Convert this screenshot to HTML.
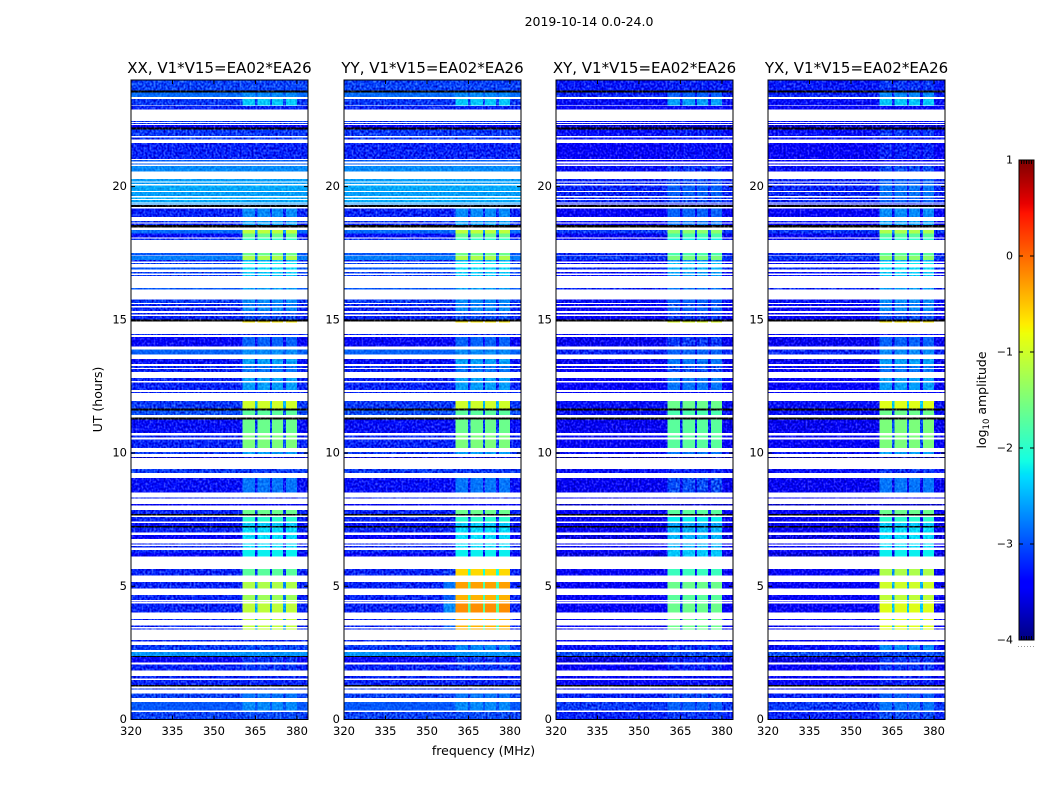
<!DOCTYPE html>
<html lang="en">
<head>
<meta charset="utf-8">
<title>2019-10-14 0.0-24.0</title>
<style>
html,body{margin:0;padding:0;background:#fff;}
svg{display:block;font-family:"DejaVu Sans","Liberation Sans",sans-serif;fill:#000;}
</style>
</head>
<body>
<svg id="chart" xmlns="http://www.w3.org/2000/svg" width="1050" height="800" viewBox="0 0 1050 800">
  <defs>
    <filter id="speckle-a" filterUnits="userSpaceOnUse" x="0" y="0" width="1050" height="800" color-interpolation-filters="sRGB">
      <feTurbulence type="fractalNoise" baseFrequency="0.5 0.42" numOctaves="1" seed="3" result="n"/>
      <feColorMatrix in="n" type="matrix" values="1 0 0 0 0 1 0 0 0 0 1 0 0 0 0 0 0 0 0 1" result="g"/>
      <feComposite in="SourceGraphic" in2="g" operator="arithmetic" k1="0" k2="1" k3="0.95" k4="-0.475" result="m"/>
      <feComposite in="m" in2="SourceAlpha" operator="in"/>
    </filter>
    <filter id="speckle-b" filterUnits="userSpaceOnUse" x="0" y="0" width="1050" height="800" color-interpolation-filters="sRGB">
      <feTurbulence type="fractalNoise" baseFrequency="0.5 0.42" numOctaves="1" seed="11" result="n"/>
      <feColorMatrix in="n" type="matrix" values="1 0 0 0 0 1 0 0 0 0 1 0 0 0 0 0 0 0 0 1" result="g"/>
      <feComposite in="SourceGraphic" in2="g" operator="arithmetic" k1="0" k2="1" k3="0.95" k4="-0.475" result="m"/>
      <feComposite in="m" in2="SourceAlpha" operator="in"/>
    </filter>
    <filter id="speckle-weak" filterUnits="userSpaceOnUse" x="0" y="0" width="1050" height="800" color-interpolation-filters="sRGB">
      <feTurbulence type="fractalNoise" baseFrequency="0.5 0.42" numOctaves="1" seed="7" result="n"/>
      <feColorMatrix in="n" type="matrix" values="1 0 0 0 0 1 0 0 0 0 1 0 0 0 0 0 0 0 0 1" result="g"/>
      <feComposite in="SourceGraphic" in2="g" operator="arithmetic" k1="0" k2="1" k3="0.45" k4="-0.225" result="m"/>
      <feComposite in="m" in2="SourceAlpha" operator="in"/>
    </filter>
  </defs>
  <text x="589" y="26" text-anchor="middle" font-size="12.5">2019-10-14 0.0-24.0</text>
  <text x="483.5" y="755" text-anchor="middle" font-size="12.5">frequency (MHz)</text>
  <text x="0" y="0" transform="translate(102 399.5) rotate(-90)" text-anchor="middle" font-size="12.5">UT (hours)</text>
  <text x="0" y="0" transform="translate(986 400) rotate(-90)" text-anchor="middle" font-size="12.5">log<tspan dy="3" font-size="8.5">10</tspan><tspan dy="-3"> amplitude</tspan></text>
  <g id="panels"></g>
  <g id="colorbar"></g>
</svg>
<script>
/* ---- chart data (hours, MHz, log10 amplitude) ---- */
const panelTitles = ["XX, V1*V15=EA02*EA26","YY, V1*V15=EA02*EA26","XY, V1*V15=EA02*EA26","YX, V1*V15=EA02*EA26"];
const xTickLabels = [320,335,350,365,380];
const yTickLabels = [0,5,10,15,20];
const colorbarTicks = [1,0,-1,-2,-3,-4];

const rowStart = [0.00,0.33,0.80,1.13,1.23,1.29,1.53,1.83,2.13,2.35,2.39,2.61,2.93,3.37,3.48,3.73,4.01,4.41,4.48,4.91,5.40,6.11,6.24,6.46,6.56,6.78,7.01,7.21,7.26,7.44,7.66,7.71,8.04,8.30,8.51,9.26,9.81,9.97,10.18,10.59,10.76,11.26,11.42,11.59,11.68,12.26,12.36,12.70,13.05,13.20,13.34,13.70,13.99,14.43,14.89,14.93,15.02,15.20,15.34,15.51,15.64,16.14,16.64,16.74,16.89,17.09,17.18,17.24,17.42,17.99,18.09,18.24,18.47,18.56,18.65,18.86,19.24,19.33,19.41,19.53,19.64,19.84,20.10,20.20,20.57,20.82,20.94,21.03,21.77,21.89,22.14,22.22,22.35,22.43,22.89,23.05,23.37,23.54,23.60];
const rowEnd = [0.28,0.65,0.98,1.17,1.29,1.48,1.63,2.06,2.35,2.39,2.54,2.80,2.98,3.42,3.52,3.77,4.36,4.43,4.67,5.16,5.65,6.24,6.36,6.51,6.61,6.93,7.21,7.26,7.38,7.60,7.71,7.86,8.09,8.34,9.06,9.40,9.86,10.04,10.51,10.66,11.26,11.34,11.59,11.68,11.95,12.30,12.64,12.82,13.15,13.26,13.53,13.89,14.36,14.46,14.93,15.02,15.14,15.26,15.47,15.59,15.77,16.19,16.68,16.80,16.97,17.14,17.24,17.39,17.51,18.05,18.24,18.37,18.56,18.62,18.70,19.18,19.30,19.37,19.50,19.59,19.79,20.05,20.16,20.28,20.77,20.87,20.99,21.64,21.84,22.14,22.22,22.31,22.39,22.47,23.02,23.28,23.54,23.60,24.00];

const baseParallel = [-3.05,-2.95,-3.05,-3.1,-5,-3.2,-3.2,-3.2,-3.4,-5,-2.65,-3.1,-3.2,-3.2,-3.2,-3.2,-3.2,-3.2,-3.2,-3.2,-3.2,-3.4,-3.2,-3.2,-3.2,-3.4,-3.2,-5,-3.3,-3.2,-5,-3.2,-3.5,-3.2,-3.3,-3.1,-3.7,-3.1,-3.2,-3.2,-3.3,-5,-3.0,-5,-3.1,-3.2,-3.2,-3.2,-3.2,-3.2,-3.3,-2.9,-3.35,-3.2,null,-5,-3.2,-3.2,-3.2,-3.2,-3.1,-2.95,-3.1,-3.05,-2.95,-3.05,-3.2,-2.75,-2.95,-3.1,-3.3,-2.85,-5,-3.2,-3.1,-3.2,-5,-2.7,-2.55,-2.55,-2.6,-2.55,-2.6,-2.6,-2.7,-2.9,-2.9,-3.2,-3.1,-3.1,-5,-3.5,-3.1,-3.1,-3.2,-3.1,-2.85,-5,-3.05];
const baseCross = [-3.2,-3.1,-3.2,-3.3,-5,-3.4,-3.4,-3.4,-3.6,-5,-3.0,-3.3,-3.4,-3.4,-3.4,-3.4,-3.4,-3.4,-3.4,-3.4,-3.4,-3.6,-3.4,-3.4,-3.4,-3.6,-3.4,-5,-3.5,-3.4,-5,-3.4,-3.7,-3.4,-3.5,-3.3,-3.9,-3.3,-3.4,-3.4,-3.5,-5,-3.3,-5,-3.3,-3.4,-3.4,-3.4,-3.4,-3.4,-3.5,-3.2,-3.5,-3.4,null,-5,-3.4,-3.4,-3.4,-3.4,-3.3,-3.2,-3.3,-3.3,-3.2,-3.3,-3.4,-3.1,-3.2,-3.3,-3.5,-3.1,-5,-3.4,-3.3,-3.4,-5,-3.3,-3.2,-3.2,-3.2,-3.2,-3.2,-3.2,-3.3,-3.4,-3.4,-3.4,-3.3,-3.3,-5,-3.7,-3.3,-3.3,-3.4,-3.3,-3.2,-5,-3.25];

const rfiXX = [-3.0,-2.7,-2.8,null,null,-3.2,-3.2,-3.1,-3.1,null,null,-3,null,-1.1,-1.1,-1.1,-1.1,-1.2,-1.3,-1.2,-1.7,-2.2,-2.2,-2.3,-2.3,-2.3,-2.3,null,-2.4,-2,null,-1.6,null,null,-2.8,-3.1,null,-2.6,-1.5,-1.5,-1.6,null,-1.7,null,-1.0,null,-2.6,-2.6,-2.8,-2.8,-2.6,-2.7,-2.9,null,-0.7,null,-3,-3,-2.7,-2.8,-2.7,-2.6,-2.4,-2.4,-2.3,-2.2,-2.5,-1.2,-1.6,-2,-1.6,-1.1,null,-2.6,-2.6,-2.7,null,null,-2.8,-2.8,-2.7,-2.7,-2.8,-2.8,-2.9,null,null,-3.2,null,-3.1,null,null,null,null,null,-2.4,-2.7,null,-3.1];
const rfiYY = [-3.0,-2.7,-2.8,null,null,-3.2,-3.2,-3.1,-3.1,null,null,-2.7,null,-0.4,-0.4,-0.4,-0.2,-0.3,-0.4,-0.3,-0.6,-2.2,-2.2,-2.3,-2.3,-2.3,-2.3,null,-2.4,-2,null,-1.6,null,null,-2.8,-3.1,null,-2.6,-1.5,-1.5,-1.6,null,-1.7,null,-1.0,null,-2.6,-2.6,-2.8,-2.8,-2.6,-2.7,-2.9,null,-0.7,null,-3,-3,-2.7,-2.8,-2.7,-2.6,-2.4,-2.4,-2.3,-2.2,-2.5,-1.2,-1.6,-2,-1.6,-1.1,null,-2.6,-2.6,-2.7,null,null,-2.8,-2.8,-2.7,-2.7,-2.8,-2.8,-2.9,null,null,-3.2,null,-3.1,null,null,null,null,null,-2.4,-2.7,null,-3.1];
const rfiXY = [-3.1,-2.9,-3.0,null,null,-3.3,-3.3,-3.2,-3.2,null,null,-3.1,null,-1.6,-1.6,-1.6,-1.6,-1.7,-1.7,-1.6,-1.9,-2.4,-2.4,-2.5,-2.5,-2.5,-2.5,null,-2.6,-2.2,null,-1.7,null,null,-3,-3.2,null,-2.8,-1.7,-1.7,-1.7,null,-1.8,null,-1.6,null,-2.8,-2.8,-3,-3,-2.8,-2.9,-3.1,null,-0.9,null,-3.1,-3.1,-2.9,-3,-2.9,-2.8,-2.6,-2.6,-2.5,-2.4,-2.7,-1.5,-1.8,-2.2,-1.8,-1.4,null,-2.8,-2.8,-2.9,null,null,-3,-3,-2.9,-2.9,-3,-3,-3.1,null,null,-3.3,null,-3.2,null,null,null,null,null,-2.6,-2.9,null,-3.2];
const rfiYX = [-3.0,-2.8,-2.9,null,null,-3.2,-3.2,-3.1,-3.1,null,null,-2.7,null,-0.9,-0.9,-0.9,-0.9,-1,-1.1,-1,-1.2,-2.2,-2.2,-2.3,-2.3,-2.3,-2.3,null,-2.4,-2,null,-1.6,null,null,-2.8,-3.1,null,-2.6,-1.5,-1.5,-1.5,null,-1.6,null,-0.9,null,-2.6,-2.6,-2.8,-2.8,-2.6,-2.7,-2.9,null,-0.7,null,-3,-3,-2.7,-2.8,-2.7,-2.6,-2.4,-2.4,-2.3,-2.2,-2.5,-1.4,-1.7,-2,-1.7,-1.2,null,-2.6,-2.6,-2.7,null,null,-2.9,-2.9,-2.8,-2.8,-2.9,-2.9,-3,null,null,-3.2,null,-3.1,null,null,null,null,null,-2.4,-2.7,null,-3.1];

const channelStart = [320,351,356,360.4,364.8,365.8,370.2,370.9,375,376,380];
const channelEnd = [351,356,360.4,364.8,365.8,370.2,370.9,375,376,380,384];
const channelGain = [null,-3.0,-2.5,0,-1.5,0,-1.5,0,-1.5,0,null];

/* ---- layout ---- */
const NS = "http://www.w3.org/2000/svg";
const panelLeft = [131,344,556,768];
const panelWidth = 177;
const plotTop = 80, plotBottom = 719.5;
const rfiByPanel = [rfiXX,rfiYY,rfiXY,rfiYX];
const baseByPanel = [baseParallel,baseParallel,baseCross,baseCross];

function xScale(panel,f){return panelLeft[panel]+(f-320)/(384-320)*panelWidth;}
function yScale(t){return plotBottom-t/24*(plotBottom-plotTop);}
function lerp(t,pts){
  for(let i=1;i<pts.length;i++){
    if(t<=pts[i][0]){
      const a=pts[i-1],b=pts[i];
      return a[1]+(b[1]-a[1])*(t-a[0])/(b[0]-a[0]);
    }
  }
  return pts[pts.length-1][1];
}
const jetR=[[0,0],[.35,0],[.66,1],[.89,1],[1,.5]];
const jetG=[[0,0],[.125,0],[.375,1],[.64,1],[.91,0],[1,0]];
const jetB=[[0,.5],[.11,1],[.34,1],[.65,0],[1,0]];
function colorOf(v){
  if(v<-4.2)return "rgb(0,0,0)";
  const t=Math.min(1,Math.max(0,(v+4)/5));
  return "rgb("+Math.round(255*lerp(t,jetR))+","+Math.round(255*lerp(t,jetG))+","+Math.round(255*lerp(t,jetB))+")";
}
function make(tag,attrs,parent){
  const el=document.createElementNS(NS,tag);
  for(const k in attrs)el.setAttribute(k,attrs[k]);
  parent.appendChild(el);
  return el;
}

const panelsRoot=document.getElementById("panels");
panelTitles.forEach(function(title,p){
  const left=panelLeft[p], right=left+panelWidth;
  const g=make("g",{},panelsRoot);
  
  

  const cellsStrong=make("g",{filter:"url(#speckle-"+(p%2?"b":"a")+")","shape-rendering":"crispEdges"},g);
  
  
  const cellsWeak=make("g",{filter:"url(#speckle-weak)","shape-rendering":"crispEdges"},g);
  
  
  const cellsHot=make("g",{"shape-rendering":"crispEdges"},g);
  
  

  rowStart.forEach(function(t0,r){
    const base=baseByPanel[p][r], rfi=rfiByPanel[p][r];
    const y1=yScale(rowEnd[r]), y0=yScale(t0);
    channelStart.forEach(function(f0,c){
      const gain=channelGain[c];
      let v=base;
      if(rfi!==null&&gain!==null){
        const hot=rfi+gain;
        v=(base===null)?(gain===0?hot:null):Math.max(base,hot);
      }
      if(base===-5)v=base;
      if(v===null)return;
      const x0=xScale(p,f0), x1=xScale(p,channelEnd[c]);
      const target=(v>-2.3)?cellsHot:((v>-3.0)?cellsWeak:cellsStrong);
      const cell=make("rect",{x:x0,y:y1,width:x1-x0,height:y0-y1,fill:colorOf(v)},target);
      
      
    });
  });

  const frame=make("rect",{x:left,y:plotTop,width:panelWidth,height:plotBottom-plotTop,fill:"none",stroke:"#000","stroke-width":1},g);
  
  

  xTickLabels.forEach(function(f){
    const x=xScale(p,f);
    const tb=make("line",{x1:x,x2:x,y1:plotBottom,y2:plotBottom-4,stroke:"#000"},g);
    
    
    const tt=make("line",{x1:x,x2:x,y1:plotTop,y2:plotTop+4,stroke:"#000"},g);
    
    
    const lab=make("text",{x:x,y:735,"text-anchor":"middle","font-size":11.5},g);
    
    
    lab.textContent=f;
  });
  yTickLabels.forEach(function(t){
    const y=yScale(t);
    const tl=make("line",{x1:left,x2:left+4,y1:y,y2:y,stroke:"#000"},g);
    
    
    const tr=make("line",{x1:right,x2:right-4,y1:y,y2:y,stroke:"#000"},g);
    
    
    const lab=make("text",{x:left-4,y:y+3.5,"text-anchor":"end","font-size":11.5},g);
    
    
    lab.textContent=t;
  });

  const ttl=make("text",{x:left+panelWidth/2,y:73,"text-anchor":"middle","font-size":15},g);
  
  
  ttl.textContent=title;
});

/* ---- colorbar ---- */
const cbLeft=1019,cbRight=1034,cbTop=160,cbBottom=640;
function cbScale(v){return cbBottom-(v+4)/5*(cbBottom-cbTop);}
const cbRoot=document.getElementById("colorbar");
const cbCells=make("g",{"shape-rendering":"crispEdges"},cbRoot);


for(let i=0;i<240;i++){
  const v0=-4+i*5/240, v1=-4+(i+1)*5/240;
  const step=make("rect",{x:cbLeft,y:cbScale(v1),width:cbRight-cbLeft,height:cbScale(v0)-cbScale(v1)+0.5,fill:colorOf((v0+v1)/2)},cbCells);
  
  
}
const cbFrame=make("rect",{x:cbLeft,y:cbTop,width:cbRight-cbLeft,height:cbBottom-cbTop,fill:"none",stroke:"#000"},cbRoot);


colorbarTicks.forEach(function(v){
  const y=cbScale(v);
  const a=make("line",{x1:cbLeft,x2:cbLeft+4,y1:y,y2:y,stroke:"#000"},cbRoot);
  
  
  const b=make("line",{x1:cbRight,x2:cbRight-4,y1:y,y2:y,stroke:"#000"},cbRoot);
  
  
  const lab=make("text",{x:1013,y:y+3.5,"text-anchor":"end","font-size":11},cbRoot);
  
  
  lab.textContent=String(v).replace("-","\u2212");
});
[0,1,2,3,4].forEach(function(i){
  const x=cbLeft+2.5+i*2.5;
  const a=make("line",{x1:x,x2:x,y1:cbTop,y2:cbTop+4,stroke:"#000"},cbRoot);
  
  
  const b=make("line",{x1:x,x2:x,y1:cbBottom,y2:cbBottom-4,stroke:"#000"},cbRoot);
  
  
});
const dots=make("line",{x1:1018,x2:1035,y1:646.5,y2:646.5,stroke:"#999","stroke-dasharray":"1 2"},cbRoot);


</script>
</body>
</html>
